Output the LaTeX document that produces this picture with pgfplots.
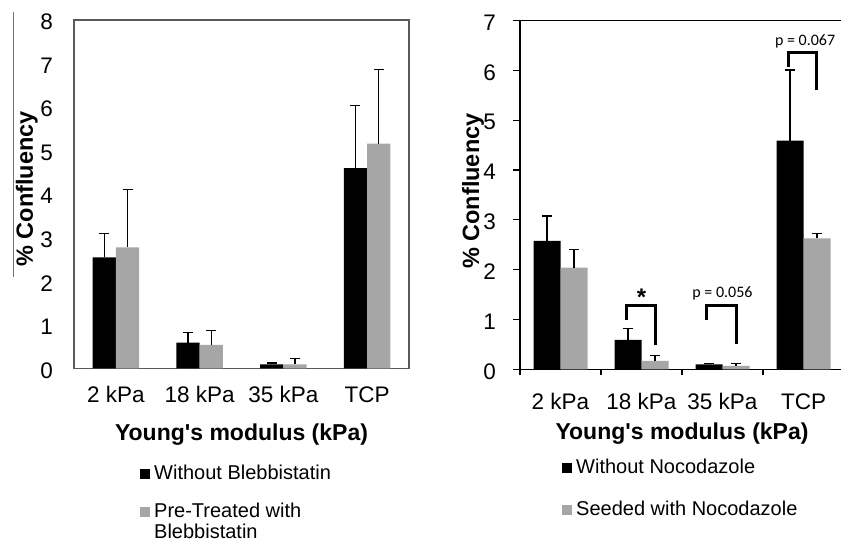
\documentclass[border=0pt]{standalone}
\usepackage{pgfplots}
\pgfplotsset{compat=1.18}
\usepackage{pgfplotstable}
\usepackage{fontspec}
\setmainfont{Liberation Sans}
\newfontfamily\calib{Carlito}
\definecolor{barGray}{HTML}{A6A6A6}

\pgfplotstableread{
x w we p pe
0 2.55 0.55 2.78 1.32
1 0.59 0.24 0.54 0.33
2 0.09 0.03 0.09 0.13
3 4.60 1.43 5.16 1.71
}\leftdata

\pgfplotstableread{
x w we s se
0 2.58 0.50 2.04 0.37
1 0.59 0.23 0.17 0.10
2 0.10 0.02 0.07 0.04
3 4.59 1.42 2.63 0.10
}\rightdata

\pgfplotsset{
  myerr/.style={error bars/.cd, y dir=plus, y explicit,
    error bar style={draw=black, line width=1.2bp},
    error mark options={rotate=90, draw=black, line width=1.2bp, mark size=5bp}},
}

\begin{document}
\begin{tikzpicture}
\useasboundingbox (0bp,0bp) rectangle (841bp,548bp);
\draw[black!55, line width=0.9bp] (13bp,536bp) -- (13bp,271bp);

% ---------------- left panel ----------------
\begin{axis}[
  at={(74bp,179.7bp)}, anchor=south west,
  scale only axis, width=335bp, height=348.3bp,
  xmin=-0.5, xmax=3.5, ymin=0, ymax=8,
  ybar=0pt, bar width=23.3bp,
  xtick={0,1,2,3}, xticklabels={2 kPa,18 kPa,35 kPa,TCP},
  ytick={0,1,...,8},
  major tick length=0pt, minor tick length=0pt,
  axis line style={black!65, line width=1.2bp},
  /pgf/number format/assume math mode=true,
  ticklabel style={font=\fontsize{22.5bp}{26bp}\selectfont, inner sep=0pt},
  xticklabel style={anchor=north, yshift=-18bp},
  yticklabel style={anchor=east, xshift=-21bp, yshift=-2bp},
  xlabel={Young\textquotesingle s modulus (kPa)},
  xlabel style={font=\bfseries\fontsize{23bp}{27bp}\selectfont, at={(axis description cs:0.5,0)}, anchor=base, yshift=-72.4bp, inner sep=0pt},
  ylabel={\% Confluency},
  ylabel style={font=\bfseries\fontsize{23.5bp}{27bp}\selectfont, at={(axis description cs:-0.1224,0.515)}, anchor=base, inner sep=0pt},
  legend style={at={(axis description cs:0.197,-0.276)}, anchor=north west, draw=none, fill=none, inner sep=0pt, column sep=4bp, row sep=22.4bp, font=\fontsize{20bp}{21bp}\selectfont, nodes={inner sep=0pt}},
  legend cell align=left,
  legend image code/.code={\fill[#1,draw=none] (0bp,-6bp) rectangle (10bp,4bp);},
]
\addplot[fill=black, draw=none, myerr] table[x=x, y=w, y error=we] {\leftdata};
\addlegendentry{Without Blebbistatin}
\addplot[fill=barGray, draw=none, myerr] table[x=x, y=p, y error=pe] {\leftdata};
\addlegendentry{\begin{tabular}[t]{@{}l@{}}Pre-Treated with\\Blebbistatin\end{tabular}}
\end{axis}

% ---------------- right panel ----------------
\begin{axis}[
  at={(520bp,178.7bp)}, anchor=south west,
  scale only axis, width=324bp, height=348.6bp,
  xmin=-0.5, xmax=3.5, ymin=0, ymax=7,
  ybar=0pt, bar width=27bp,
  xtick={0,1,2,3}, xticklabels={2 kPa,18 kPa,35 kPa,TCP},
  minor xtick={-0.5,0.5,1.5,2.5,3.5},
  ytick={0,1,...,7},
  xtick pos=bottom, ytick pos=left, tick align=outside,
  major tick length=7bp, minor tick length=6bp,
  major x tick style={draw=none},
  tick style={black, line width=1.2bp},
  axis line style={black, line width=1.2bp},
  /pgf/number format/assume math mode=true,
  ticklabel style={font=\fontsize{22.5bp}{26bp}\selectfont, inner sep=0pt},
  xticklabel style={anchor=north, yshift=-17bp},
  yticklabel style={anchor=east, xshift=-17bp, yshift=-2bp},
  xlabel={Young\textquotesingle s modulus (kPa)},
  xlabel style={font=\bfseries\fontsize{23bp}{27bp}\selectfont, at={(axis description cs:0.5,0)}, anchor=base, yshift=-70.7bp, inner sep=0pt},
  ylabel={\% Confluency},
  ylabel style={font=\bfseries\fontsize{23.5bp}{27bp}\selectfont, at={(axis description cs:-0.1265,0.511)}, anchor=base, inner sep=0pt},
  legend style={at={(axis description cs:0.1296,-0.258)}, anchor=north west, draw=none, fill=none, inner sep=0pt, column sep=4bp, row sep=25.4bp, font=\fontsize{20bp}{21bp}\selectfont, nodes={inner sep=0pt}},
  legend cell align=left,
  legend image code/.code={\fill[#1,draw=none] (0bp,-6bp) rectangle (10bp,4bp);},
]
\addplot[fill=black, draw=none, myerr] table[x=x, y=w, y error=we] {\rightdata};
\addlegendentry{Without Nocodazole}
\addplot[fill=barGray, draw=none, myerr] table[x=x, y=s, y error=se] {\rightdata};
\addlegendentry{Seeded with Nocodazole}
% significance brackets
\addplot[sharp plot, draw=black, line width=3bp, forget plot, mark=none] coordinates {(0.817,0.99) (0.817,1.29) (1.167,1.29) (1.167,0.49)};
\addplot[sharp plot, draw=black, line width=3bp, forget plot, mark=none] coordinates {(1.805,0.99) (1.805,1.29) (2.17,1.29) (2.17,0.51)};
\addplot[sharp plot, draw=black, line width=3bp, forget plot, mark=none] coordinates {(2.81,6.08) (2.81,6.37) (3.16,6.37) (3.16,5.61)};
\node[font=\bfseries\fontsize{24bp}{28bp}\selectfont, anchor=center, inner sep=0pt] at (axis cs:1.0,1.44) {*};
\node[font=\calib\fontsize{16bp}{19bp}\selectfont, anchor=base, inner sep=0pt] at (axis cs:2.0,1.44) {p = 0.056};
\node[font=\calib\fontsize{16bp}{19bp}\selectfont, anchor=base, inner sep=0pt] at (axis cs:3.02,6.51) {p = 0.067};
\end{axis}
\end{tikzpicture}
\end{document}
